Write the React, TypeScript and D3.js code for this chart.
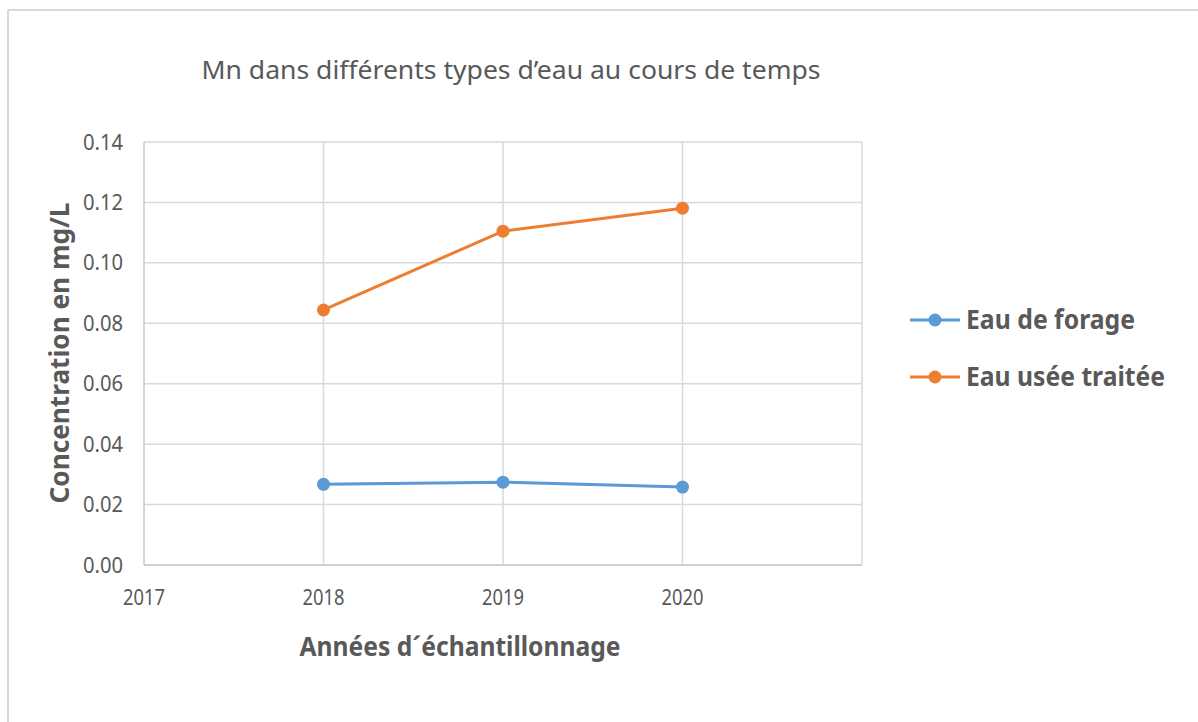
import React, { useEffect } from "react";
import * as d3 from "d3";

const years = [2018, 2019, 2020];
const eauForage = [0.0267, 0.0274, 0.0258];
const eauUseeTraitee = [0.0844, 0.1105, 0.1181];
const xTicks = [2017, 2018, 2019, 2020];
const yTicks = [0, 0.02, 0.04, 0.06, 0.08, 0.1, 0.12, 0.14];
const seriesNames = ["Eau de forage", "Eau usée traitée"];
const seriesColors = ["#5B9BD5", "#ED7D31"];
const titleText = "Mn dans différents types d’eau au cours de temps";
const yTitle = "Concentration en mg/L";
const xTitle = "Années d´échantillonnage";

const W = 1198;
const H = 722;
const plot = { left: 144, right: 862, top: 142, bottom: 565 };
const textColor = "#595959";
const font = "'Noto Sans', 'Open Sans', sans-serif";

export default function App() {
  useEffect(() => {
    document.body.style.margin = "0";
  }, []);

  const x = d3.scaleLinear().domain([2017, 2021]).range([plot.left, plot.right]);
  const y = d3.scaleLinear().domain([0, 0.14]).range([plot.bottom, plot.top]);
  const line = d3
    .line<[number, number]>()
    .x((d) => x(d[0]))
    .y((d) => y(d[1]));

  const series = [eauForage, eauUseeTraitee].map((vals, i) => ({
    name: seriesNames[i],
    color: seriesColors[i],
    points: years.map((yr, j) => [yr, vals[j]] as [number, number]),
  }));

  const legendY = [320, 377];

  return (
    <svg width={W} height={H} style={{ display: "block" }} fontFamily={font}>
      <rect x={0} y={0} width={W} height={H} fill="#ffffff" />
      <line x1={8} y1={10} x2={W} y2={10} stroke="#D9D9D9" strokeWidth={2} />
      <line x1={8} y1={10} x2={8} y2={H} stroke="#D9D9D9" strokeWidth={2} />

      <text
        x={511}
        y={79}
        textAnchor="middle"
        fontSize={26}
        fill={textColor}
        textLength={619}
        lengthAdjust="spacingAndGlyphs"
      >
        {titleText}
      </text>

      {/* horizontal gridlines */}
      {yTicks.map((t) => (
        <line
          key={"h" + t}
          x1={plot.left}
          x2={plot.right}
          y1={y(t)}
          y2={y(t)}
          stroke="#D9D9D9"
          strokeWidth={1.5}
        />
      ))}
      {/* vertical gridlines */}
      {[2018, 2019, 2020, 2021].map((t) => (
        <line
          key={"v" + t}
          x1={x(t)}
          x2={x(t)}
          y1={plot.top}
          y2={plot.bottom}
          stroke="#D9D9D9"
          strokeWidth={1.5}
        />
      ))}
      {/* axes */}
      <line x1={plot.left} x2={plot.left} y1={plot.top} y2={plot.bottom} stroke="#C8C8C8" strokeWidth={1.5} />
      <line x1={plot.left} x2={plot.right} y1={plot.bottom} y2={plot.bottom} stroke="#C8C8C8" strokeWidth={1.5} />

      {/* y tick labels */}
      {yTicks.map((t) => (
        <text
          key={"yl" + t}
          x={123}
          y={y(t)}
          dy="0.36em"
          textAnchor="end"
          fontSize={21}
          fill={textColor}
          textLength={40}
          lengthAdjust="spacingAndGlyphs"
        >
          {d3.format(".2f")(t)}
        </text>
      ))}
      {/* x tick labels */}
      {xTicks.map((t) => (
        <text
          key={"xl" + t}
          x={x(t)}
          y={605}
          textAnchor="middle"
          fontSize={21}
          fill={textColor}
          textLength={42}
          lengthAdjust="spacingAndGlyphs"
        >
          {String(t)}
        </text>
      ))}

      {/* axis titles */}
      <text
        transform={`translate(69,353) rotate(-90)`}
        textAnchor="middle"
        fontSize={27}
        fontWeight="bold"
        fill={textColor}
        textLength={301}
        lengthAdjust="spacingAndGlyphs"
      >
        {yTitle}
      </text>
      <text
        x={460}
        y={656}
        textAnchor="middle"
        fontSize={26}
        fontWeight="bold"
        fill={textColor}
        textLength={321}
        lengthAdjust="spacingAndGlyphs"
      >
        {xTitle}
      </text>

      {/* series */}
      {series.map((s) => (
        <g key={s.name}>
          <path d={line(s.points) || ""} fill="none" stroke={s.color} strokeWidth={3} />
          {s.points.map((p, j) => (
            <circle key={j} cx={x(p[0])} cy={y(p[1])} r={6.5} fill={s.color} />
          ))}
        </g>
      ))}

      {/* legend */}
      {series.map((s, i) => (
        <g key={"lg" + s.name}>
          <line x1={910} x2={960} y1={legendY[i]} y2={legendY[i]} stroke={s.color} strokeWidth={3} />
          <circle cx={935} cy={legendY[i]} r={6.5} fill={s.color} />
          <text
            x={966}
            y={legendY[i]}
            dy="0.36em"
            fontSize={26}
            fontWeight="bold"
            fill={textColor}
            textLength={i === 0 ? 169 : 199}
            lengthAdjust="spacingAndGlyphs"
          >
            {s.name}
          </text>
        </g>
      ))}
    </svg>
  );
}
